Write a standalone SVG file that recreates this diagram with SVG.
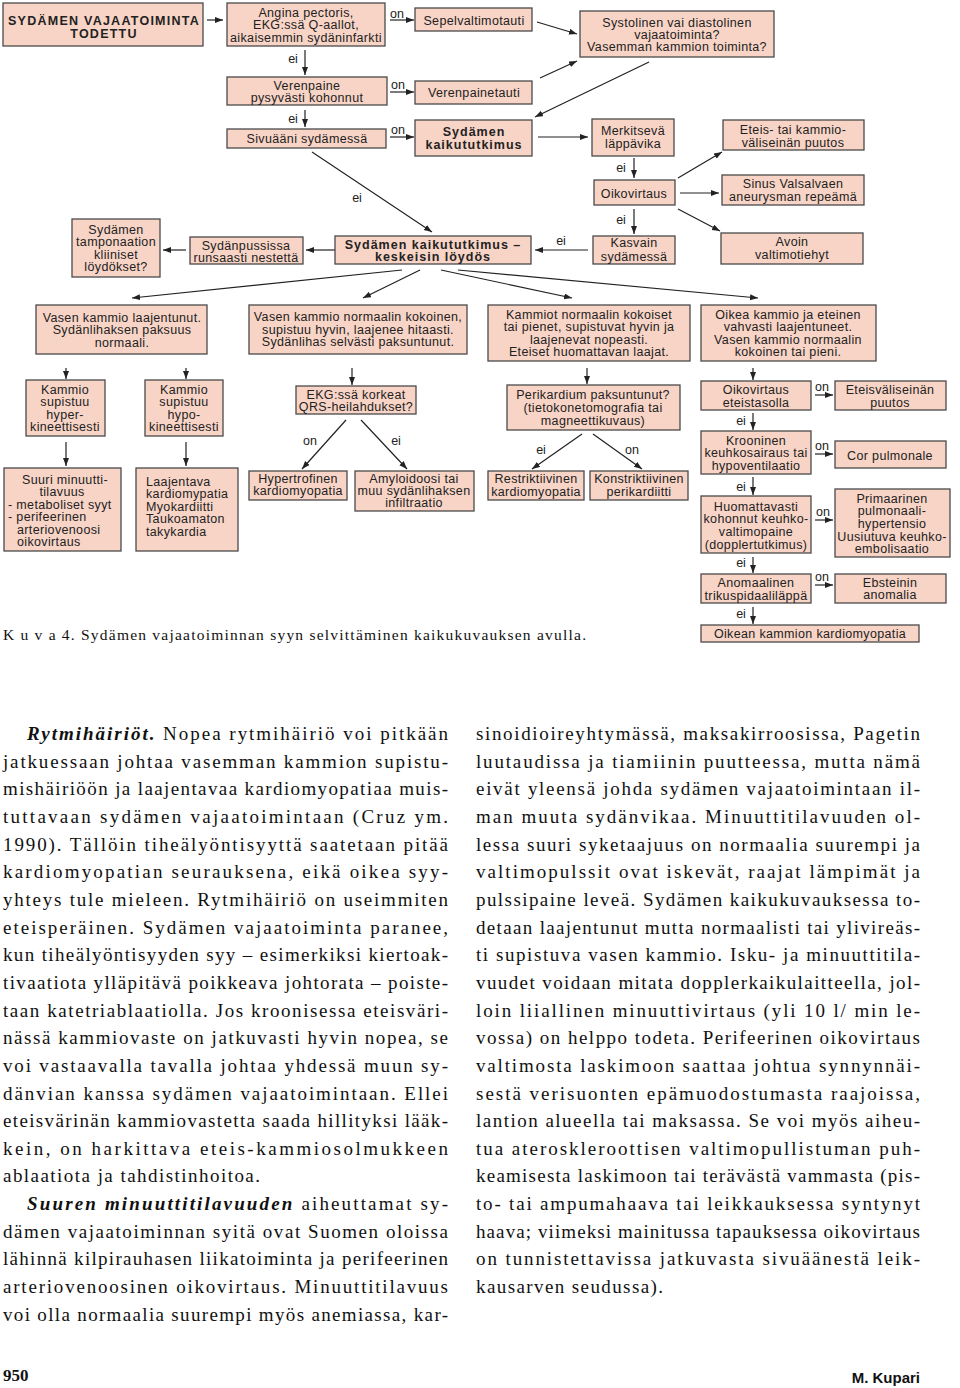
<svg xmlns="http://www.w3.org/2000/svg" width="960" height="1388" viewBox="0 0 960 1388">
<style>
.box{fill:#f8d4c6;stroke:#4a4a4a;stroke-width:1.3}
.t{font-family:"Liberation Sans",Arial,sans-serif;font-size:12.5px;letter-spacing:0.35px;fill:#222;text-anchor:middle}
.b{font-weight:bold;letter-spacing:1px}
.l{text-anchor:start}
.lbl{font-family:"Liberation Sans",Arial,sans-serif;font-size:12.5px;fill:#222;text-anchor:middle}
.conn line{stroke:#222;stroke-width:1.2;marker-end:url(#ah)}
.body{font-family:"Liberation Serif","Times New Roman",serif;font-size:19px;fill:#111}
.bi{font-weight:bold;font-style:italic}
</style>
<defs>
<marker id="ah" markerUnits="userSpaceOnUse" markerWidth="9" markerHeight="7" refX="8" refY="3" orient="auto">
<path d="M0,0 L8,3 L0,6 z" fill="#222"/>
</marker>
</defs>
<rect width="960" height="1388" fill="#fff"/>

<g id="connectors" class="conn">
<line x1="207" y1="20" x2="223" y2="20"/>
<line x1="390" y1="20" x2="414" y2="20"/>
<line x1="305" y1="50" x2="305" y2="75"/>
<line x1="390" y1="92" x2="414" y2="92"/>
<line x1="305" y1="110" x2="305" y2="127"/>
<line x1="390" y1="137" x2="414" y2="137"/>
<line x1="537" y1="22" x2="577" y2="34"/>
<line x1="540" y1="78" x2="577" y2="61"/>
<line x1="649" y1="62" x2="535" y2="117"/>
<line x1="538" y1="137" x2="588" y2="137"/>
<line x1="634" y1="158" x2="634" y2="178"/>
<line x1="678" y1="178" x2="722" y2="152"/>
<line x1="680" y1="193" x2="719" y2="193"/>
<line x1="678" y1="209" x2="720" y2="231"/>
<line x1="634" y1="209" x2="634" y2="234"/>
<line x1="588" y1="250" x2="535" y2="250"/>
<line x1="312" y1="152" x2="432" y2="232"/>
<line x1="335" y1="250" x2="306" y2="250"/>
<line x1="186" y1="250" x2="163" y2="250"/>
<line x1="402" y1="270" x2="132" y2="298"/>
<line x1="420" y1="270" x2="363" y2="298"/>
<line x1="441" y1="270" x2="572" y2="298"/>
<line x1="458" y1="270" x2="758" y2="298"/>
<line x1="66" y1="368" x2="66" y2="379"/>
<line x1="186" y1="368" x2="186" y2="379"/>
<line x1="66" y1="442" x2="66" y2="466"/>
<line x1="186" y1="442" x2="186" y2="466"/>
<line x1="352" y1="368" x2="352" y2="385"/>
<line x1="346" y1="420" x2="302" y2="469"/>
<line x1="361" y1="420" x2="407" y2="469"/>
<line x1="587" y1="368" x2="587" y2="384"/>
<line x1="582" y1="434" x2="532" y2="469"/>
<line x1="593" y1="434" x2="642" y2="469"/>
<line x1="753" y1="368" x2="753" y2="380"/>
<line x1="815" y1="395" x2="833" y2="395"/>
<line x1="753" y1="413" x2="753" y2="430"/>
<line x1="815" y1="454" x2="833" y2="454"/>
<line x1="753" y1="477" x2="753" y2="495"/>
<line x1="815" y1="520" x2="833" y2="520"/>
<line x1="753" y1="557" x2="753" y2="573"/>
<line x1="815" y1="585" x2="833" y2="585"/>
<line x1="753" y1="607" x2="753" y2="624"/>
</g>

<g id="connector-labels" class="lbl">
<text x="397" y="18">on</text>
<text x="293" y="63">ei</text>
<text x="398" y="89">on</text>
<text x="293" y="123">ei</text>
<text x="398" y="134">on</text>
<text x="621" y="172">ei</text>
<text x="621" y="224">ei</text>
<text x="561" y="245">ei</text>
<text x="357" y="202">ei</text>
<text x="310" y="445">on</text>
<text x="396" y="445">ei</text>
<text x="541" y="454">ei</text>
<text x="632" y="454">on</text>
<text x="822" y="391">on</text>
<text x="741" y="425">ei</text>
<text x="822" y="450">on</text>
<text x="823" y="516">on</text>
<text x="741" y="491">ei</text>
<text x="741" y="567">ei</text>
<text x="822" y="581">on</text>
<text x="741" y="618">ei</text>
</g>

<g id="n-start"><rect class="box" x="3" y="3" width="200" height="43"/>
<text class="t b" style="letter-spacing:1.25px"><tspan x="104" y="24.5">SYDÄMEN VAJAATOIMINTA</tspan><tspan x="104" y="37.5">TODETTU</tspan></text></g>

<g id="n-angina"><rect class="box" x="227" y="3" width="158" height="43"/>
<text class="t"><tspan x="306" y="16.5">Angina pectoris,</tspan><tspan x="306" y="29">EKG:ssä Q-aallot,</tspan><tspan x="306" y="41.5">aikaisemmin sydäninfarkti</tspan></text></g>

<g id="n-sepel"><rect class="box" x="415" y="8" width="117" height="23"/>
<text class="t" x="474" y="24.5">Sepelvaltimotauti</text></g>

<g id="n-systo"><rect class="box" x="580" y="11" width="194" height="46"/>
<text class="t"><tspan x="677" y="26.5">Systolinen vai diastolinen</tspan><tspan x="677" y="38.5">vajaatoiminta?</tspan><tspan x="677" y="50.5">Vasemman kammion toiminta?</tspan></text></g>

<g id="n-verenpaine"><rect class="box" x="227" y="77" width="160" height="28"/>
<text class="t"><tspan x="307" y="89.5">Verenpaine</tspan><tspan x="307" y="101.5">pysyvästi kohonnut</tspan></text></g>

<g id="n-verenpainetauti"><rect class="box" x="415" y="81" width="117" height="23"/>
<text class="t" x="474" y="96.5">Verenpainetauti</text></g>

<g id="n-sivu"><rect class="box" x="227" y="129" width="159" height="19"/>
<text class="t" x="307" y="142.5">Sivuääni sydämessä</text></g>

<g id="n-kaiku"><rect class="box" x="415" y="120" width="117" height="36"/>
<text class="t b"><tspan x="474" y="135.5">Sydämen</tspan><tspan x="474" y="148.5">kaikututkimus</tspan></text></g>

<g id="n-merk"><rect class="box" x="592" y="119" width="82" height="37"/>
<text class="t"><tspan x="633" y="134.5">Merkitsevä</tspan><tspan x="633" y="147.5">läppävika</tspan></text></g>

<g id="n-vsd"><rect class="box" x="723" y="120" width="141" height="30"/>
<text class="t"><tspan x="793" y="133.5">Eteis- tai kammio-</tspan><tspan x="793" y="146.5">väliseinän puutos</tspan></text></g>

<g id="n-oiko"><rect class="box" x="594" y="180" width="81" height="25"/>
<text class="t" x="634" y="197.5">Oikovirtaus</text></g>

<g id="n-sinus"><rect class="box" x="722" y="175" width="142" height="30"/>
<text class="t"><tspan x="793" y="187.5">Sinus Valsalvaen</tspan><tspan x="793" y="200.5">aneurysman repeämä</tspan></text></g>

<g id="n-avoin"><rect class="box" x="721" y="233" width="142" height="31"/>
<text class="t"><tspan x="792" y="245.5">Avoin</tspan><tspan x="792" y="258.5">valtimotiehyt</tspan></text></g>

<g id="n-kasvain"><rect class="box" x="593" y="236" width="82" height="28"/>
<text class="t"><tspan x="634" y="246.5">Kasvain</tspan><tspan x="634" y="260.5">sydämessä</tspan></text></g>

<g id="n-keskeisin"><rect class="box" x="335" y="236" width="196" height="28"/>
<text class="t b"><tspan x="433" y="248.5">Sydämen kaikututkimus –</tspan><tspan x="433" y="260.5">keskeisin löydös</tspan></text></g>

<g id="n-sydanpussi"><rect class="box" x="190" y="237" width="113" height="27"/>
<text class="t"><tspan x="246" y="249.5">Sydänpussissa</tspan><tspan x="246" y="261.5">runsaasti nestettä</tspan></text></g>

<g id="n-tamponaatio"><rect class="box" x="72" y="219" width="88" height="58"/>
<text class="t"><tspan x="116" y="233.5">Sydämen</tspan><tspan x="116" y="245.5">tamponaation</tspan><tspan x="116" y="258.5">kliiniset</tspan><tspan x="116" y="270.5">löydökset?</tspan></text></g>

<g id="n-vk-laaj"><rect class="box" x="36" y="305" width="171" height="49"/>
<text class="t"><tspan x="122" y="321.5">Vasen kammio laajentunut.</tspan><tspan x="122" y="333.5">Sydänlihaksen paksuus</tspan><tspan x="122" y="346.5">normaali.</tspan></text></g>

<g id="n-vk-norm"><rect class="box" x="249" y="305" width="218" height="49"/>
<text class="t"><tspan x="358" y="320.5">Vasen kammio normaalin kokoinen,</tspan><tspan x="358" y="333.5">supistuu hyvin, laajenee hitaasti.</tspan><tspan x="358" y="345.5">Sydänlihas selvästi paksuntunut.</tspan></text></g>

<g id="n-kammiot"><rect class="box" x="488" y="305" width="202" height="56"/>
<text class="t"><tspan x="589" y="318.5">Kammiot normaalin kokoiset</tspan><tspan x="589" y="330.5">tai pienet, supistuvat hyvin ja</tspan><tspan x="589" y="343.5">laajenevat nopeasti.</tspan><tspan x="589" y="355.5">Eteiset huomattavan laajat.</tspan></text></g>

<g id="n-oikea"><rect class="box" x="701" y="305" width="175" height="56"/>
<text class="t"><tspan x="788" y="318.5">Oikea kammio ja eteinen</tspan><tspan x="788" y="330.5">vahvasti laajentuneet.</tspan><tspan x="788" y="343.5">Vasen kammio normaalin</tspan><tspan x="788" y="355.5">kokoinen tai pieni.</tspan></text></g>

<g id="n-hyper"><rect class="box" x="26" y="380" width="79" height="56"/>
<text class="t"><tspan x="65" y="393.5">Kammio</tspan><tspan x="65" y="406">supistuu</tspan><tspan x="65" y="418.5">hyper-</tspan><tspan x="65" y="431">kineettisesti</tspan></text></g>

<g id="n-hypo"><rect class="box" x="145" y="380" width="78" height="56"/>
<text class="t"><tspan x="184" y="393.5">Kammio</tspan><tspan x="184" y="406">supistuu</tspan><tspan x="184" y="418.5">hypo-</tspan><tspan x="184" y="431">kineettisesti</tspan></text></g>

<g id="n-suuri"><rect class="box" x="4" y="468" width="117" height="83"/>
<text class="t"><tspan x="65" y="483.5">Suuri minuutti-</tspan><tspan x="62" y="495.5">tilavuus</tspan></text>
<text class="t l"><tspan x="8" y="508.5">- metaboliset syyt</tspan><tspan x="8" y="520.5">- perifeerinen</tspan><tspan x="17" y="533.5">arteriovenoosi</tspan><tspan x="17" y="545.5">oikovirtaus</tspan></text></g>

<g id="n-laajentava"><rect class="box" x="136" y="468" width="102" height="83"/>
<text class="t l"><tspan x="146" y="485.5">Laajentava</tspan><tspan x="146" y="498">kardiomypatia</tspan><tspan x="146" y="510.5">Myokardiitti</tspan><tspan x="146" y="523">Taukoamaton</tspan><tspan x="146" y="535.5">takykardia</tspan></text></g>

<g id="n-ekg"><rect class="box" x="296" y="386" width="120" height="28"/>
<text class="t"><tspan x="356" y="398.5">EKG:ssä korkeat</tspan><tspan x="356" y="410.5">QRS-heilahdukset?</tspan></text></g>

<g id="n-hypertrofinen"><rect class="box" x="249" y="471" width="98" height="29"/>
<text class="t"><tspan x="298" y="482.5">Hypertrofinen</tspan><tspan x="298" y="494.5">kardiomyopatia</tspan></text></g>

<g id="n-amyloidoosi"><rect class="box" x="355" y="471" width="119" height="40"/>
<text class="t"><tspan x="414" y="482.5">Amyloidoosi tai</tspan><tspan x="414" y="494.5">muu sydänlihaksen</tspan><tspan x="414" y="506.5">infiltraatio</tspan></text></g>

<g id="n-perikardium"><rect class="box" x="507" y="385" width="173" height="45"/>
<text class="t"><tspan x="593" y="398.5">Perikardium paksuntunut?</tspan><tspan x="593" y="411.5">(tietokonetomografia tai</tspan><tspan x="593" y="424.5">magneettikuvaus)</tspan></text></g>

<g id="n-restr"><rect class="box" x="488" y="471" width="96" height="29"/>
<text class="t"><tspan x="536" y="482.5">Restriktiivinen</tspan><tspan x="536" y="495.5">kardiomyopatia</tspan></text></g>

<g id="n-konstr"><rect class="box" x="590" y="471" width="98" height="29"/>
<text class="t"><tspan x="639" y="482.5">Konstriktiivinen</tspan><tspan x="639" y="495.5">perikardiitti</tspan></text></g>

<g id="n-oiko-et"><rect class="box" x="701" y="381" width="110" height="29"/>
<text class="t"><tspan x="756" y="393.5">Oikovirtaus</tspan><tspan x="756" y="406.5">eteistasolla</tspan></text></g>

<g id="n-asd"><rect class="box" x="835" y="381" width="111" height="29"/>
<text class="t"><tspan x="890" y="393.5">Eteisväliseinän</tspan><tspan x="890" y="406.5">puutos</tspan></text></g>

<g id="n-krooninen"><rect class="box" x="701" y="431" width="110" height="43"/>
<text class="t"><tspan x="756" y="444.5">Krooninen</tspan><tspan x="756" y="456.5">keuhkosairaus tai</tspan><tspan x="756" y="469.5">hypoventilaatio</tspan></text></g>

<g id="n-cor"><rect class="box" x="835" y="441" width="111" height="27"/>
<text class="t" x="890" y="459.5">Cor pulmonale</text></g>

<g id="n-huom"><rect class="box" x="701" y="496" width="110" height="57"/>
<text class="t"><tspan x="756" y="510.5">Huomattavasti</tspan><tspan x="756" y="522.5">kohonnut keuhko-</tspan><tspan x="756" y="535.5">valtimopaine</tspan><tspan x="756" y="548.5">(dopplertutkimus)</tspan></text></g>

<g id="n-primaarinen"><rect class="box" x="835" y="489" width="115" height="68"/>
<text class="t"><tspan x="892" y="502.5">Primaarinen</tspan><tspan x="892" y="514.5">pulmonaali-</tspan><tspan x="892" y="527.5">hypertensio</tspan><tspan x="892" y="540.5">Uusiutuva keuhko-</tspan><tspan x="892" y="552.5">embolisaatio</tspan></text></g>

<g id="n-anom"><rect class="box" x="701" y="574" width="110" height="29"/>
<text class="t"><tspan x="756" y="586.5">Anomaalinen</tspan><tspan x="756" y="599.5">trikuspidaaliläppä</tspan></text></g>

<g id="n-ebstein"><rect class="box" x="835" y="574" width="111" height="29"/>
<text class="t"><tspan x="890" y="586.5">Ebsteinin</tspan><tspan x="890" y="598.5">anomalia</tspan></text></g>

<g id="n-oikean"><rect class="box" x="701" y="625" width="218" height="17"/>
<text class="t" x="810" y="637.5">Oikean kammion kardiomyopatia</text></g>

<text class="body" style="font-size:15.5px" x="3" y="640" textLength="583" lengthAdjust="spacing">K u v a 4. Sydämen vajaatoiminnan syyn selvittäminen kaikukuvauksen avulla.</text>

<g id="body-left" class="body">
<text x="27" y="740" textLength="421"><tspan class="bi">Rytmihäiriöt.</tspan> Nopea rytmihäiriö voi pitkään</text>
<text x="3" y="767.7" textLength="445">jatkuessaan johtaa vasemman kammion supistu-</text>
<text x="3" y="795.3" textLength="445">mishäiriöön ja laajentavaa kardiomyopatiaa muis-</text>
<text x="3" y="823" textLength="445">tuttavaan sydämen vajaatoimintaan (Cruz ym.</text>
<text x="3" y="850.6" textLength="445">1990). Tällöin tiheälyöntisyyttä saatetaan pitää</text>
<text x="3" y="878.3" textLength="445">kardiomyopatian seurauksena, eikä oikea syy-</text>
<text x="3" y="905.9" textLength="445">yhteys tule mieleen. Rytmihäiriö on useimmiten</text>
<text x="3" y="933.6" textLength="445">eteisperäinen. Sydämen vajaatoiminta paranee,</text>
<text x="3" y="961.2" textLength="445">kun tiheälyöntisyyden syy – esimerkiksi kiertoak-</text>
<text x="3" y="988.9" textLength="445">tivaatiota ylläpitävä poikkeava johtorata – poiste-</text>
<text x="3" y="1016.5" textLength="445">taan katetriablaatiolla. Jos kroonisessa eteisväri-</text>
<text x="3" y="1044.2" textLength="445">nässä kammiovaste on jatkuvasti hyvin nopea, se</text>
<text x="3" y="1071.8" textLength="445">voi vastaavalla tavalla johtaa yhdessä muun sy-</text>
<text x="3" y="1099.5" textLength="445">dänvian kanssa sydämen vajaatoimintaan. Ellei</text>
<text x="3" y="1127.1" textLength="445">eteisvärinän kammiovastetta saada hillityksi lääk-</text>
<text x="3" y="1154.8" textLength="445">kein, on harkittava eteis-kammiosolmukkeen</text>
<text x="3" y="1182.4" textLength="257">ablaatiota ja tahdistinhoitoa.</text>
<text x="27" y="1210.1" textLength="421"><tspan class="bi">Suuren minuuttitilavuuden</tspan> aiheuttamat sy-</text>
<text x="3" y="1237.7" textLength="445">dämen vajaatoiminnan syitä ovat Suomen oloissa</text>
<text x="3" y="1265.4" textLength="445">lähinnä kilpirauhasen liikatoiminta ja perifeerinen</text>
<text x="3" y="1293" textLength="445">arteriovenoosinen oikovirtaus. Minuuttitilavuus</text>
<text x="3" y="1320.7" textLength="445">voi olla normaalia suurempi myös anemiassa, kar-</text>
</g>

<g id="body-right" class="body">
<text x="476" y="740" textLength="444">sinoidioireyhtymässä, maksakirroosissa, Pagetin</text>
<text x="476" y="767.7" textLength="444">luutaudissa ja tiamiinin puutteessa, mutta nämä</text>
<text x="476" y="795.3" textLength="444">eivät yleensä johda sydämen vajaatoimintaan il-</text>
<text x="476" y="823" textLength="444">man muuta sydänvikaa. Minuuttitilavuuden ol-</text>
<text x="476" y="850.6" textLength="444">lessa suuri syketaajuus on normaalia suurempi ja</text>
<text x="476" y="878.3" textLength="444">valtimopulssit ovat iskevät, raajat lämpimät ja</text>
<text x="476" y="905.9" textLength="444">pulssipaine leveä. Sydämen kaikukuvauksessa to-</text>
<text x="476" y="933.6" textLength="444">detaan laajentunut mutta normaalisti tai ylivireäs-</text>
<text x="476" y="961.2" textLength="444">ti supistuva vasen kammio. Isku- ja minuuttitila-</text>
<text x="476" y="988.9" textLength="444">vuudet voidaan mitata dopplerkaikulaitteella, jol-</text>
<text x="476" y="1016.5" textLength="444">loin liiallinen minuuttivirtaus (yli 10 l/ min le-</text>
<text x="476" y="1044.2" textLength="444">vossa) on helppo todeta. Perifeerinen oikovirtaus</text>
<text x="476" y="1071.8" textLength="444">valtimosta laskimoon saattaa johtua synnynnäi-</text>
<text x="476" y="1099.5" textLength="444">sestä verisuonten epämuodostumasta raajoissa,</text>
<text x="476" y="1127.1" textLength="444">lantion alueella tai maksassa. Se voi myös aiheu-</text>
<text x="476" y="1154.8" textLength="444">tua ateroskleroottisen valtimopullistuman puh-</text>
<text x="476" y="1182.4" textLength="444">keamisesta laskimoon tai terävästä vammasta (pis-</text>
<text x="476" y="1210.1" textLength="444">to- tai ampumahaava tai leikkauksessa syntynyt</text>
<text x="476" y="1237.7" textLength="444">haava; viimeksi mainitussa tapauksessa oikovirtaus</text>
<text x="476" y="1265.4" textLength="444">on tunnistettavissa jatkuvasta sivuäänestä leik-</text>
<text x="476" y="1293" textLength="187">kausarven seudussa).</text>
</g>

<text x="3" y="1381" style="font-family:'Liberation Serif',serif;font-size:17px;font-weight:bold;fill:#111">950</text>
<text x="920" y="1383" style="font-family:'Liberation Sans',Arial,sans-serif;font-size:15px;font-weight:bold;fill:#111;text-anchor:end">M. Kupari</text>
</svg>
